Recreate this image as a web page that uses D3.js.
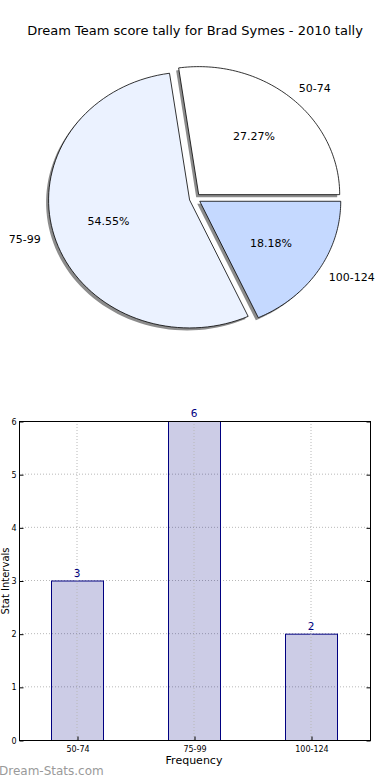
<!DOCTYPE html>
<html><head><meta charset="utf-8">
<script src="https://cdn.jsdelivr.net/npm/d3@7"></script>
<style>body{margin:0;background:#fff}svg{display:block}text{font-family:"DejaVu Sans",sans-serif}</style>
</head><body>
<script>
const title = "Dream Team score tally for Brad Symes - 2010 tally";
const categories = ["50-74", "75-99", "100-124"];
const counts = [3, 6, 2];
const pieColors = ["#ffffff", "#ebf2ff", "#c5d9ff"];
const yTicks = [0, 1, 2, 3, 4, 5, 6];

const W = 390, H = 780;
const svg = d3.select("body").append("svg").attr("width", W).attr("height", H);

svg.append("text").attr("x", 195).attr("y", 35).attr("text-anchor", "middle")
  .style("font-size", "13px").attr("fill", "#000").text(title);

// ---- Pie (elliptical, matplotlib style: counterclockwise from 3 o'clock)
const cx = 195, cy = 198.5, rx = 141, ry = 128, explode = 0.04;
const total = d3.sum(counts);
const angleScale = d3.scaleLinear().domain([0, total]).range([0, 2 * Math.PI]);
let acc = 0;
const slices = counts.map((v, i) => {
  const a0 = angleScale(acc); acc += v; const a1 = angleScale(acc);
  return {i, v, a0, a1, m: (a0 + a1) / 2};
});
function wedgePath(s, ox, oy) {
  const n = 80;
  const pts = [[ox, oy]];
  for (let k = 0; k <= n; k++) {
    const a = s.a0 + (s.a1 - s.a0) * k / n;
    pts.push([ox + rx * Math.cos(a), oy - ry * Math.sin(a)]);
  }
  return d3.line()(pts) + "Z";
}
const pieG = svg.append("g");
slices.forEach(s => {
  s.ox = cx + explode * rx * Math.cos(s.m);
  s.oy = cy - explode * ry * Math.sin(s.m);
});
slices.forEach(s => {
  pieG.append("path").attr("d", wedgePath(s, s.ox - 2.5, s.oy + 2.5))
    .attr("fill", "#000").attr("fill-opacity", 0.45).attr("stroke", "none");
});
slices.forEach(s => {
  pieG.append("path").attr("d", wedgePath(s, s.ox, s.oy))
    .attr("fill", pieColors[s.i]).attr("stroke", "#000").attr("stroke-width", 0.8)
    .attr("stroke-linejoin", "round");
});
slices.forEach(s => {
  const c = Math.cos(s.m), sn = Math.sin(s.m);
  const lx = s.ox + 1.1 * rx * c, ly = s.oy - 1.1 * ry * sn;
  pieG.append("text").attr("x", lx - (c > 0 ? 1.5 : 0)).attr("y", ly).attr("dy", "0.35em")
    .attr("text-anchor", c > 0 ? "start" : "end")
    .style("font-size", "11px").text(categories[s.i]);
  const px = s.ox + 0.6 * rx * c, py = s.oy - 0.6 * ry * sn;
  pieG.append("text").attr("x", px).attr("y", py).attr("dy", "0.35em")
    .attr("text-anchor", "middle").style("font-size", "11px")
    .text((s.v / total * 100).toFixed(2) + "%");
});

// ---- Bar chart
const L = 19, R = 370, T = 421, B = 740;
const x = d3.scalePoint().domain(categories).range([77, 311]);
const y = d3.scaleLinear().domain([0, 6]).range([B, T]);
const barW = 52;
const g = svg.append("g");
g.selectAll(".gy").data(yTicks.slice(1, -1)).join("line")
  .attr("x1", L).attr("x2", R).attr("y1", d => y(d)).attr("y2", d => y(d))
  .attr("stroke", "#b8b8b8").attr("stroke-width", 1).attr("stroke-dasharray", "1,2");
g.selectAll(".bar").data(categories).join("rect")
  .attr("x", d => x(d) - barW / 2 + 0.5).attr("width", barW)
  .attr("y", (d, i) => y(counts[i]) + 0.5).attr("height", (d, i) => B - y(counts[i]))
  .attr("fill", "#000080").attr("fill-opacity", 0.2)
  .attr("stroke", "#000080").attr("stroke-width", 1);
g.selectAll(".gx").data(categories).join("line")
  .attr("x1", d => x(d)).attr("x2", d => x(d)).attr("y1", T).attr("y2", B)
  .attr("stroke", "#b8b8b8").attr("stroke-width", 1).attr("stroke-dasharray", "1,2");
g.selectAll(".val").data(categories).join("text")
  .attr("x", d => x(d)).attr("y", (d, i) => y(counts[i]) - 4)
  .attr("text-anchor", "middle").style("font-size", "10.5px").attr("fill", "#000080")
  .text((d, i) => counts[i]);
g.append("rect").attr("x", L + 0.5).attr("y", T + 0.5).attr("width", R - L).attr("height", B - T)
  .attr("fill", "none").attr("stroke", "#000").attr("stroke-width", 1);
const yAxis = d3.axisLeft(y).tickValues(yTicks).tickSize(-4).tickPadding(3).tickFormat(d3.format("d"));
const ya = g.append("g").attr("transform", `translate(${L + 0.5},0.5)`).call(yAxis);
ya.select(".domain").remove();
ya.selectAll("text").style("font-size", "8px").style("font-family", "DejaVu Sans");
const ya2 = g.append("g").attr("transform", `translate(${R + 0.5},0.5)`)
  .call(d3.axisRight(y).tickValues(yTicks).tickSize(-4).tickFormat(""));
ya2.select(".domain").remove();
const xAxis = d3.axisBottom(x).tickSize(-4).tickPadding(6);
const xa = g.append("g").attr("transform", `translate(0.5,${B + 0.5})`).call(xAxis);
xa.select(".domain").remove();
xa.selectAll("text").style("font-size", "8px").style("font-family", "DejaVu Sans");

svg.append("text").attr("x", 194).attr("y", 764).attr("text-anchor", "middle")
  .style("font-size", "11px").text("Frequency");
svg.append("text").attr("transform", "translate(8.5,581) rotate(-90)")
  .attr("text-anchor", "middle").style("font-size", "10px").text("Stat Intervals");

svg.append("text").attr("x", -1).attr("y", 775).style("font-size", "12px")
  .attr("fill", "#9a9a9a").text("Dream-Stats.com");
</script>
</body></html>
